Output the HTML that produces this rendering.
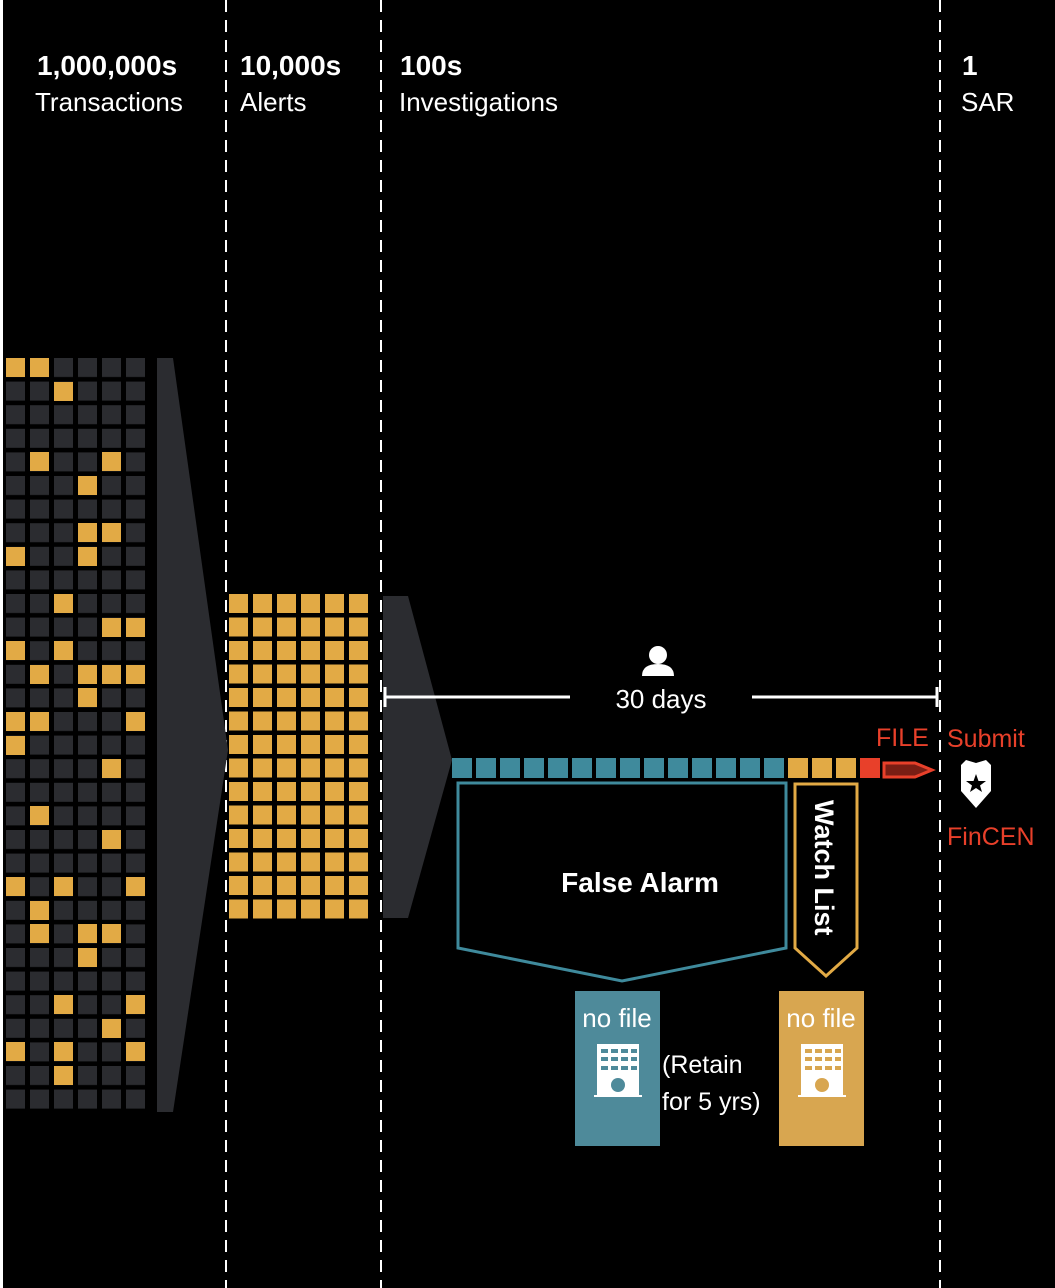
<!DOCTYPE html>
<html><head><meta charset="utf-8"><style>
html,body{margin:0;padding:0;background:#000;}
svg{display:block}
text{font-family:"Liberation Sans",sans-serif;fill:#fff}
</style></head><body>
<svg width="1055" height="1288" viewBox="0 0 1055 1288" xmlns="http://www.w3.org/2000/svg">
<defs>
<pattern id="dk" patternUnits="userSpaceOnUse" x="6" y="358" width="24" height="23.6"><rect width="19" height="19" fill="#2b2c30"/></pattern>
<pattern id="yl" patternUnits="userSpaceOnUse" x="229" y="594" width="24" height="23.5"><rect width="19" height="19" fill="#e2aa45"/></pattern>
<pattern id="tl" patternUnits="userSpaceOnUse" x="452" y="758" width="24" height="20"><rect width="20" height="20" fill="#3f8a9c"/></pattern>
<pattern id="tly" patternUnits="userSpaceOnUse" x="788" y="758" width="24" height="20"><rect width="20" height="20" fill="#e2aa45"/></pattern>
</defs>
<rect width="1055" height="1288" fill="#000"/>
<rect x="0" y="0" width="3" height="1288" fill="#fff"/>
<g stroke="#fff" stroke-width="2" stroke-dasharray="12,8">
<line x1="226" y1="0" x2="226" y2="1288"/>
<line x1="381" y1="0" x2="381" y2="1288"/>
<line x1="940" y1="0" x2="940" y2="1288"/>
</g>
<text x="37" y="75" font-size="28" font-weight="bold">1,000,000s</text>
<text x="35" y="111" font-size="26">Transactions</text>
<text x="240" y="75" font-size="28" font-weight="bold">10,000s</text>
<text x="240" y="111" font-size="26">Alerts</text>
<text x="400" y="75" font-size="28" font-weight="bold">100s</text>
<text x="399" y="111" font-size="26">Investigations</text>
<text x="962" y="75" font-size="28" font-weight="bold">1</text>
<text x="961" y="111" font-size="26">SAR</text>

<rect x="6" y="358" width="143" height="755" fill="url(#dk)"/>
<g fill="#e2aa45">
<rect x="6" y="358" width="19" height="19"/><rect x="30" y="358" width="19" height="19"/>
<rect x="54" y="382" width="19" height="19"/>
<rect x="30" y="452" width="19" height="19"/><rect x="102" y="452" width="19" height="19"/>
<rect x="78" y="476" width="19" height="19"/>
<rect x="78" y="523" width="19" height="19"/><rect x="102" y="523" width="19" height="19"/>
<rect x="6" y="547" width="19" height="19"/><rect x="78" y="547" width="19" height="19"/>
<rect x="54" y="594" width="19" height="19"/>
<rect x="102" y="618" width="19" height="19"/><rect x="126" y="618" width="19" height="19"/>
<rect x="6" y="641" width="19" height="19"/><rect x="54" y="641" width="19" height="19"/>
<rect x="30" y="665" width="19" height="19"/><rect x="78" y="665" width="19" height="19"/><rect x="102" y="665" width="19" height="19"/><rect x="126" y="665" width="19" height="19"/>
<rect x="78" y="688" width="19" height="19"/>
<rect x="6" y="712" width="19" height="19"/><rect x="30" y="712" width="19" height="19"/><rect x="126" y="712" width="19" height="19"/>
<rect x="6" y="736" width="19" height="19"/>
<rect x="102" y="759" width="19" height="19"/>
<rect x="30" y="806" width="19" height="19"/>
<rect x="102" y="830" width="19" height="19"/>
<rect x="6" y="877" width="19" height="19"/><rect x="54" y="877" width="19" height="19"/><rect x="126" y="877" width="19" height="19"/>
<rect x="30" y="901" width="19" height="19"/>
<rect x="30" y="924" width="19" height="19"/><rect x="78" y="924" width="19" height="19"/><rect x="102" y="924" width="19" height="19"/>
<rect x="78" y="948" width="19" height="19"/>
<rect x="54" y="995" width="19" height="19"/><rect x="126" y="995" width="19" height="19"/>
<rect x="102" y="1019" width="19" height="19"/>
<rect x="6" y="1042" width="19" height="19"/><rect x="54" y="1042" width="19" height="19"/><rect x="126" y="1042" width="19" height="19"/>
<rect x="54" y="1066" width="19" height="19"/>
</g>
<polygon points="157,358 173,358 228,750 173,1112 157,1112" fill="#2b2c30"/>
<rect x="229" y="594" width="143" height="329" fill="url(#yl)"/>
<polygon points="383,596 408,596 452,760 408,918 383,918" fill="#2b2c30"/>

<!-- 30 days -->
<g stroke="#fff" stroke-width="3">
<line x1="384" y1="697" x2="570" y2="697"/><line x1="752" y1="697" x2="937" y2="697"/>
<line x1="385" y1="687" x2="385" y2="707"/><line x1="937" y1="687" x2="937" y2="707"/>
</g>
<circle cx="658" cy="655" r="9" fill="#fff"/>
<path d="M642,676 Q642,664 658,664 Q674,664 674,676 Z" fill="#fff"/>
<text x="661" y="708" font-size="26" text-anchor="middle">30 days</text>

<rect x="452" y="758" width="336" height="20" fill="url(#tl)"/>
<rect x="788" y="758" width="68" height="20" fill="url(#tly)"/>
<rect x="860" y="758" width="20" height="20" fill="#e8402a"/>
<polygon points="884,763 915,763 932,770 915,777 884,777" fill="#7a1e14" stroke="#e8402a" stroke-width="3"/>
<text x="876" y="746" font-size="25" style="fill:#e8402a">FILE</text>
<text x="947" y="747" font-size="25" style="fill:#e8402a">Submit</text>
<text x="947" y="845" font-size="25" style="fill:#e8402a">FinCEN</text>
<path d="M961,765 L966,760 L976,763 L986,760 L991,765 L991,791 L976,808 L961,791 Z" fill="#fff"/>
<polygon points="976,774 978.5,781 986,781 980,785.5 982,792 976,788 970,792 972,785.5 966,781 973.5,781" fill="#000"/>

<polygon points="458,783 786,783 786,948 622,981 458,948" fill="none" stroke="#3f8a9c" stroke-width="3"/>
<text x="640" y="892" font-size="28" font-weight="bold" text-anchor="middle">False Alarm</text>
<polygon points="795,784 857,784 857,948 826,976 795,948" fill="none" stroke="#e2aa45" stroke-width="3"/>
<text transform="translate(815,800) rotate(90)" font-size="27" font-weight="bold">Watch List</text>

<rect x="575" y="991" width="85" height="155" fill="#4e8a9a"/>
<rect x="779" y="991" width="85" height="155" fill="#d8a650"/>
<text x="617" y="1027" font-size="26" text-anchor="middle">no file</text>
<text x="821" y="1027" font-size="26" text-anchor="middle">no file</text>
<g fill="#fff">
<rect x="597" y="1044" width="42" height="52"/><rect x="594" y="1095" width="48" height="2"/>
<rect x="801" y="1044" width="42" height="52"/><rect x="798" y="1095" width="48" height="2"/>
</g>
<g fill="#4e8a9a">
<rect x="601" y="1049" width="7" height="4"/><rect x="611" y="1049" width="7" height="4"/><rect x="621" y="1049" width="7" height="4"/><rect x="631" y="1049" width="6" height="4"/>
<rect x="601" y="1057" width="7" height="4"/><rect x="611" y="1057" width="7" height="4"/><rect x="621" y="1057" width="7" height="4"/><rect x="631" y="1057" width="6" height="4"/>
<rect x="601" y="1066" width="7" height="4"/><rect x="611" y="1066" width="7" height="4"/><rect x="621" y="1066" width="7" height="4"/><rect x="631" y="1066" width="6" height="4"/>
<circle cx="618" cy="1085" r="7"/>
</g>
<g fill="#d8a650">
<rect x="805" y="1049" width="7" height="4"/><rect x="815" y="1049" width="7" height="4"/><rect x="825" y="1049" width="7" height="4"/><rect x="835" y="1049" width="6" height="4"/>
<rect x="805" y="1057" width="7" height="4"/><rect x="815" y="1057" width="7" height="4"/><rect x="825" y="1057" width="7" height="4"/><rect x="835" y="1057" width="6" height="4"/>
<rect x="805" y="1066" width="7" height="4"/><rect x="815" y="1066" width="7" height="4"/><rect x="825" y="1066" width="7" height="4"/><rect x="835" y="1066" width="6" height="4"/>
<circle cx="822" cy="1085" r="7"/>
</g>
<text x="662" y="1073" font-size="25">(Retain</text>
<text x="662" y="1110" font-size="25">for 5 yrs)</text>
</svg>
</body></html>
